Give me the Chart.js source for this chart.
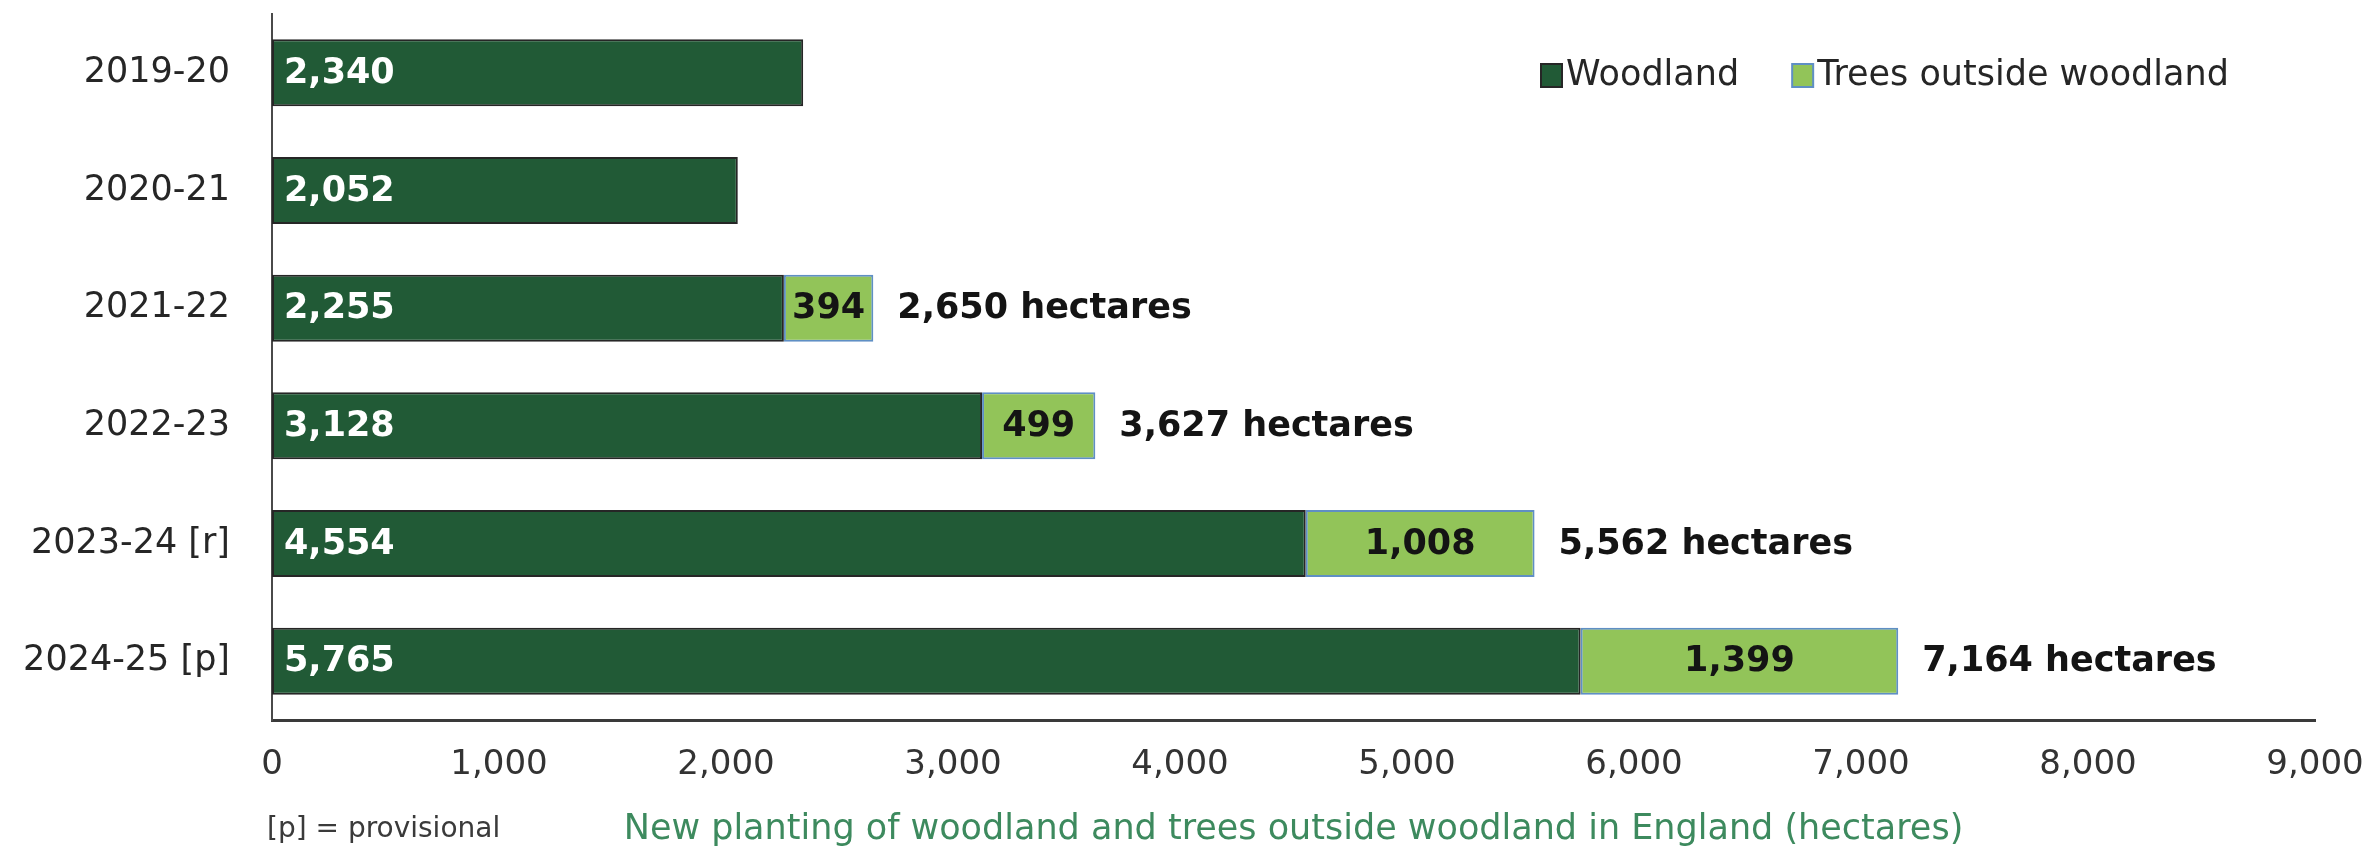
<!DOCTYPE html>
<html>
<head>
<meta charset="utf-8">
<title>New planting of woodland and trees outside woodland in England</title>
<script src="https://cdn.jsdelivr.net/npm/chart.js@4.4.1/dist/chart.umd.min.js"></script>
<style>
  html, body { margin: 0; padding: 0; background: #ffffff; }
  #wrap { width: 2368px; height: 849px; position: relative; }
</style>
</head>
<body>
<div id="wrap"><canvas id="plantingChart"></canvas></div>
<script>
// ===== data =====
const years = ["2019-20", "2020-21", "2021-22", "2022-23", "2023-24 [r]", "2024-25 [p]"];
const woodland = [2340, 2052, 2255, 3128, 4554, 5765];
const treesOutside = [null, null, 394, 499, 1008, 1399];
const totals = [null, null, 2650, 3627, 5562, 7164];
const xTicks = [0, 1000, 2000, 3000, 4000, 5000, 6000, 7000, 8000, 9000];

const FONT = '"DejaVu Sans", Verdana, sans-serif';
const DARK_GREEN = "#215a36";
const LIGHT_GREEN = "#92c459";

// ===== helper =====
function fmt(v) {
    return v.toLocaleString("en-GB");
}

// ------------------------ bar labels ------------------------
const barLabels = {
    id: "barLabels",
    afterDatasetsDraw(chart) {
        const ctx = chart.ctx;
        ctx.save();
        ctx.font = "bold 35px " + FONT;
        ctx.textBaseline = "middle";

        chart.getDatasetMeta(0).data.forEach((bar, i) => {
            ctx.fillStyle = "#ffffff";
            ctx.textAlign = "left";
            ctx.fillText(fmt(woodland[i]), bar.base + 12, bar.y + 1);
        });

        chart.getDatasetMeta(1).data.forEach((bar, i) => {
            if (treesOutside[i] == null) return;
            ctx.fillStyle = "#141414";
            ctx.textAlign = "center";
            ctx.fillText(fmt(treesOutside[i]), (bar.x + bar.base) / 2, bar.y + 1);
            ctx.textAlign = "left";
            ctx.fillText(fmt(totals[i]) + " hectares", bar.x + 24, bar.y + 1);
        });
        ctx.restore();
    }
};

// ------------------------ legend + footer text ------------------------
const extras = {
    id: "extras",
    afterDraw(chart) {
        const ctx = chart.ctx;
        const area = chart.chartArea;
        ctx.save();

        // legend
        ctx.font = "35px " + FONT;
        ctx.textBaseline = "middle";
        ctx.textAlign = "left";
        let x = 1541;
        const y = 75;
        chart.data.datasets.forEach(ds => {
            ctx.fillStyle = ds.backgroundColor;
            ctx.strokeStyle = ds.borderColor;
            ctx.lineWidth = 2;
            ctx.fillRect(x, y - 11, 21, 23);
            ctx.strokeRect(x, y - 11, 21, 23);
            ctx.fillStyle = "#262626";
            ctx.fillText(ds.label, x + 25, y + 1);
            x += 25 + ctx.measureText(ds.label).width + 53;
        });

        // footnote
        ctx.font = "28px " + FONT;
        ctx.fillStyle = "#3a3a3a";
        ctx.fillText("[p] = provisional", 267, 830);

        // axis title
        ctx.font = "35px " + FONT;
        ctx.fillStyle = "#3d8a5e";
        ctx.textAlign = "center";
        ctx.fillText("New planting of woodland and trees outside woodland in England (hectares)",
            (area.left + area.right) / 2, 830);
        ctx.restore();
    }
};

// ------------------------ chart ------------------------
const ctx = document.getElementById("plantingChart").getContext("2d");

const plantingChart = new Chart(ctx, {
    type: "bar",
    data: {
        labels: years,
        datasets: [
            {
                label: "Woodland",
                data: woodland,
                backgroundColor: DARK_GREEN,
                borderColor: "#262626",
                borderWidth: 2,
                borderSkipped: false,
                categoryPercentage: 1,
                barPercentage: 0.57,
            },
            {
                label: "Trees outside woodland",
                data: treesOutside,
                backgroundColor: LIGHT_GREEN,
                borderColor: "#5f8fc4",
                borderWidth: 2,
                borderSkipped: false,
                categoryPercentage: 1,
                barPercentage: 0.57,
            },
        ],
    },
    options: {
        indexAxis: "y",
        responsive: true,
        maintainAspectRatio: false,
        animation: false,
        layout: { padding: { top: 14, right: 53, bottom: 0, left: 0 } },
        plugins: {
            legend: { display: false },
            tooltip: { enabled: false },
        },
        scales: {
            x: {
                stacked: true,
                min: 0,
                max: 9000,
                afterBuildTicks: s => { s.ticks = xTicks.map(v => ({ value: v })); },
                afterFit: s => { s.height = 129; s.paddingLeft = 0; s.paddingRight = 0; },
                grid: { display: false, drawTicks: false },
                border: { display: true, color: "#3a3a3a", width: 3 },
                ticks: {
                    padding: 25,
                    color: "#333333",
                    font: { family: FONT, size: 34 },
                    callback: v => fmt(v),
                },
            },
            y: {
                stacked: true,
                afterFit: s => { s.width = 272; s.paddingTop = 0; s.paddingBottom = 0; },
                grid: { display: false, drawTicks: false },
                border: { display: true, color: "#4a4a4a", width: 2 },
                ticks: {
                    padding: 42,
                    color: "#262626",
                    font: { family: FONT, size: 35 },
                },
            },
        },
    },
    plugins: [barLabels, extras],
});
</script>
</body>
</html>
